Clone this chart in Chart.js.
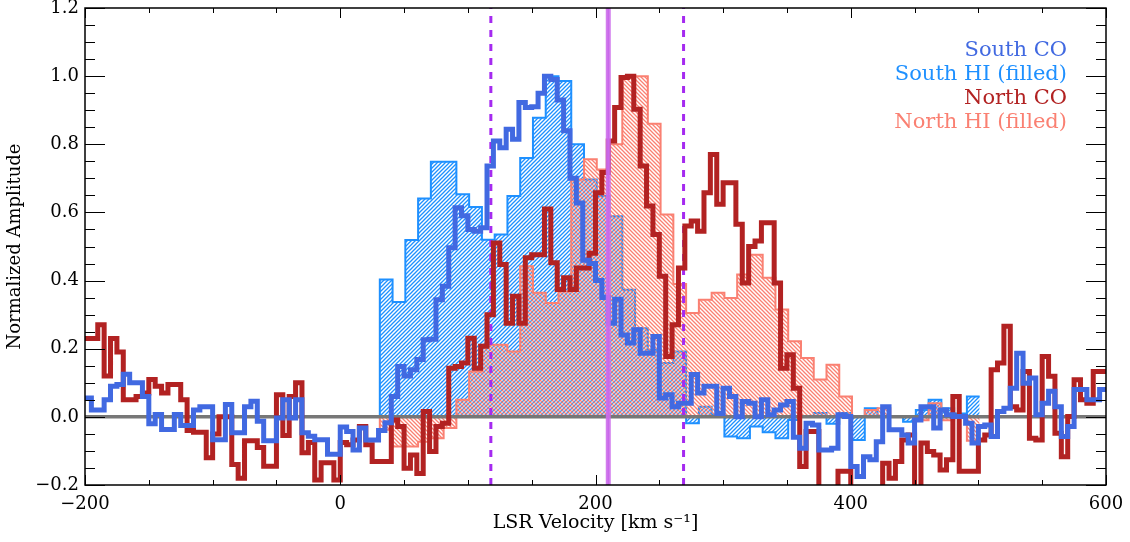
<!DOCTYPE html>
<html>
<head>
<meta charset="utf-8">
<title>South / North CO and HI spectra</title>
<script src="https://cdn.jsdelivr.net/npm/chart.js@4.4.1/dist/chart.umd.min.js"></script>
<style>
  html, body { margin: 0; padding: 0; background: #fff; }
  canvas { display: block; }
</style>
</head>
<body>
<canvas id="chart" width="1130" height="542"></canvas>
<script>
// channel grids, km/s
const coStart = -200, coWidth = 5;
const hiStart = 1, hiWidth = 10;

// CO spectra, one value per 5 km/s channel from -200 to 600
const southCO = [
  0.055, 0.02, 0.02, 0.05, 0.09, 0.095, 0.125, 0.10, 0.10, 0.06,
  -0.02, 0.007, -0.037, -0.037, 0.007, -0.025, -0.025, 0.02, 0.03, 0.03,
  -0.067, -0.067, 0.036, -0.047, -0.047, 0.03, 0.046, -0.013, -0.07, -0.07,
  -0.003, 0.05, -0.003, 0.05, -0.047, -0.057, -0.067, -0.067, -0.11, -0.11,
  -0.03, -0.043, -0.097, -0.033, -0.068, -0.068, -0.04, -0.017, 0.06, 0.148,
  0.12, 0.138, 0.168, 0.226, 0.228, 0.344, 0.383, 0.496, 0.614, 0.59,
  0.55, 0.545, 0.555, 0.736, 0.81, 0.79, 0.844, 0.815, 0.923, 0.908,
  0.91, 0.95, 1.0, 0.99, 0.93, 0.84, 0.70, 0.628, 0.46, 0.45,
  0.40, 0.35, 0.275, 0.345, 0.24, 0.217, 0.256, 0.187, 0.187, 0.236,
  0.055, 0.065, 0.03, 0.04, 0.04, 0.124, 0.07, 0.09, 0.09, 0.01,
  0.084, 0.06, 0.0, 0.045, 0.04, 0.0, 0.05, 0.006, 0.02, 0.035,
  0.045, -0.06, -0.092, -0.019, -0.024, -0.097, -0.097, -0.092, 0.006, 0.001,
  -0.146, -0.175, -0.117, -0.126, -0.073, 0.03, -0.038, -0.038, -0.053, -0.077,
  -0.009, 0.03, 0.03, -0.033, 0.02, 0.006, 0.001, 0.001, -0.019, -0.077,
  -0.028, -0.024, -0.058, 0.016, 0.025, 0.084, 0.187, 0.099, 0.114, 0.006,
  0.04, 0.075, 0.03, -0.058, -0.028, 0.08, 0.08, 0.05, 0.05, 0.08
];
const northCO = [
  0.23, 0.23, 0.27, 0.12, 0.23, 0.19, 0.05, 0.05, 0.06, 0.07,
  0.11, 0.09, 0.07, 0.095, 0.095, 0.05, -0.04, -0.045, -0.045, -0.12,
  -0.05, 0.0, 0.0, -0.14, -0.18, -0.07, -0.07, -0.09, -0.145, -0.145,
  0.065, -0.055, 0.06, 0.10, -0.105, -0.075, -0.185, -0.135, -0.135, -0.185,
  -0.075, -0.082, -0.068, -0.028, -0.082, -0.131, -0.131, -0.131, -0.009, -0.028,
  -0.151, -0.112, -0.166, 0.016, -0.102, -0.028, -0.019, 0.143, 0.148, 0.158,
  0.231, 0.143, 0.207, 0.30, 0.51, 0.447, 0.275, 0.354, 0.275, 0.467,
  0.476, 0.476, 0.61, 0.452, 0.374, 0.408, 0.374, 0.437, 0.437, 0.48,
  0.658, 0.717, 0.81, 0.908, 0.996, 1.0, 0.903, 0.736, 0.619, 0.535,
  0.413, 0.177, 0.27, 0.437, 0.56, 0.575, 0.545, 0.658, 0.77, 0.624,
  0.687, 0.687, 0.565, 0.393, 0.50, 0.516, 0.57, 0.57, 0.393, 0.143,
  0.182, 0.084, -0.146, -0.043, -0.043, -0.22, -0.22, -0.22, -0.16, -0.16,
  -0.22, -0.22, -0.22, -0.22, -0.22, -0.136, -0.18, -0.131, -0.068, -0.053,
  -0.22, -0.077, -0.102, -0.112, -0.156, -0.126, 0.06, -0.16, -0.16, -0.16,
  -0.068, -0.053, 0.138, 0.158, 0.266, 0.03, 0.02, 0.133, -0.063, -0.068,
  0.177, 0.119, -0.048, -0.117, 0.001, 0.109, 0.05, 0.04, 0.133, 0.133
];

// HI spectra, one value per 10 km/s channel from 1 to 501
const southHI = [
  0, 0, 0, 0.403, 0.337, 0.519, 0.641, 0.749, 0.749, 0.653,
  0.616, 0.52, 0.535, 0.648, 0.76, 0.878, 1.0, 0.986, 0.80, 0.697,
  0.648, 0.589, 0.373, 0.26, 0.197, 0.158, 0.192, -0.019, 0.03, 0.006,
  -0.058, -0.063, -0.028, -0.045, -0.063, -0.009, 0.0, 0.011, -0.02, 0.011,
  -0.068, 0.025, 0.0, 0.0, -0.014, 0.02, 0.05, 0.025, 0.01, 0.06
];
const northHI = [
  0, 0, 0, -0.038, -0.087, -0.087, -0.073, -0.063, -0.033, 0.05,
  0.133, 0.212, 0.212, 0.192, 0.442, 0.364, 0.334, 0.368, 0.697, 0.756,
  0.726, 0.80, 1.0, 1.0, 0.86, 0.594, 0.39, 0.305, 0.344, 0.364,
  0.349, 0.418, 0.476, 0.408, 0.315, 0.222, 0.173, 0.11, 0.153, 0.06,
  0.0, 0.02, 0.025, 0.0, 0.0, -0.01, 0.04, -0.01, 0.0, -0.07
];

// marker velocities
const windowVel = [118, 269];
const centreVel = 210;

const xTicks = [-200, 0, 200, 400, 600];
const yTicks = [-0.2, 0.0, 0.2, 0.4, 0.6, 0.8, 1.0, 1.2];
const xMinor = 50, yMinor = 0.05;

const legendText = ['South CO', 'South HI (filled)', 'North CO', 'North HI (filled)'];
const legendColor = ['#4169E1', '#1E90FF', '#B22222', '#FA8072'];

// value i holds over [start + i*width, start + (i+1)*width]
function steps(start, width, values) {
  const pts = values.map((v, i) => ({x: start + i * width, y: v}));
  pts.push({x: start + values.length * width, y: values[values.length - 1]});
  return pts;
}

function hatch(color, up) {
  const c = document.createElement('canvas');
  c.width = c.height = 4;
  const g = c.getContext('2d');
  g.strokeStyle = color;
  g.lineWidth = 1.3;
  g.beginPath();
  if (up) {
    g.moveTo(-1, 5); g.lineTo(5, -1);
    g.moveTo(-1, 1); g.lineTo(1, -1);
    g.moveTo(3, 5); g.lineTo(5, 3);
  } else {
    g.moveTo(-1, -1); g.lineTo(5, 5);
    g.moveTo(-1, 3); g.lineTo(1, 5);
    g.moveTo(3, -1); g.lineTo(5, 1);
  }
  g.stroke();
  return g.createPattern(c, 'repeat');
}

const minus = s => s.replace('-', '\u2212');

const vline = v => [{x: v, y: yTicks[0]}, {x: v, y: yTicks[yTicks.length - 1]}];

// inward IDL style ticks and box
const framePlugin = {
  id: 'frame',
  afterDraw(chart) {
    const {ctx, chartArea: a, scales: {x, y}} = chart;
    ctx.save();
    ctx.strokeStyle = '#000';
    ctx.lineWidth = 1;
    ctx.beginPath();
    const nx = Math.round((x.max - x.min) / xMinor);
    for (let i = 0; i <= nx; i++) {
      const v = x.min + i * xMinor;
      const px = Math.round(x.getPixelForValue(v)) + 0.5;
      const len = xTicks.some(t => Math.abs(t - v) < 1e-6) ? 10 : 5;
      ctx.moveTo(px, a.bottom); ctx.lineTo(px, a.bottom - len);
      ctx.moveTo(px, a.top); ctx.lineTo(px, a.top + len);
    }
    const ny = Math.round((y.max - y.min) / yMinor);
    for (let i = 0; i <= ny; i++) {
      const v = y.min + i * yMinor;
      const py = Math.round(y.getPixelForValue(v)) + 0.5;
      const len = yTicks.some(t => Math.abs(t - v) < 1e-6) ? 20 : 10;
      ctx.moveTo(a.left, py); ctx.lineTo(a.left + len, py);
      ctx.moveTo(a.right, py); ctx.lineTo(a.right - len, py);
    }
    ctx.stroke();
    ctx.lineWidth = 1.5;
    ctx.strokeRect(a.left, a.top, a.right - a.left, a.bottom - a.top);
    ctx.restore();
  }
};

const legendPlugin = {
  id: 'cornerLegend',
  afterDatasetsDraw(chart) {
    const {ctx, chartArea: a} = chart;
    ctx.save();
    ctx.font = '21px "DejaVu Serif"';
    ctx.textAlign = 'right';
    ctx.textBaseline = 'alphabetic';
    legendText.forEach((t, i) => {
      ctx.fillStyle = legendColor[i];
      ctx.fillText(t, a.right - 39, a.top + 48 + 24 * i);
    });
    ctx.restore();
  }
};

Chart.defaults.font.family = '"DejaVu Serif", serif';
Chart.defaults.color = '#000';

const ctx = document.getElementById('chart');
new Chart(ctx, {
  type: 'line',
  data: {
    datasets: [
      {
        label: 'centre', data: vline(centreVel),
        borderColor: 'rgba(205,110,235,0.9)', borderWidth: 5, order: 0
      },
      {
        label: 'centre core', data: vline(centreVel),
        borderColor: '#A33BE3', borderWidth: 1.5, order: 0
      },
      {
        label: legendText[0], data: steps(coStart, coWidth, southCO), stepped: 'before',
        borderColor: legendColor[0], borderWidth: 5, order: 1
      },
      {
        label: legendText[2], data: steps(coStart, coWidth, northCO), stepped: 'before',
        borderColor: legendColor[2], borderWidth: 5, order: 2
      },
      {
        label: 'window low', data: vline(windowVel[0]),
        borderColor: '#A52AF0', borderWidth: 3, borderDash: [7, 7], order: 3
      },
      {
        label: 'window high', data: vline(windowVel[1]),
        borderColor: '#A52AF0', borderWidth: 3, borderDash: [7, 7], order: 3
      },
      {
        label: 'zero', data: [{x: xTicks[0], y: 0}, {x: xTicks[xTicks.length - 1], y: 0}],
        borderColor: '#777', borderWidth: 3.5, order: 4
      },
      {
        label: legendText[3], data: steps(hiStart, hiWidth, northHI), stepped: 'before',
        borderColor: legendColor[3], borderWidth: 2, fill: 'origin',
        backgroundColor: hatch(legendColor[3], false), order: 5
      },
      {
        label: legendText[1], data: steps(hiStart, hiWidth, southHI), stepped: 'before',
        borderColor: legendColor[1], borderWidth: 2, fill: 'origin',
        backgroundColor: hatch(legendColor[1], true), order: 6
      }
    ]
  },
  options: {
    responsive: false,
    animation: false,
    devicePixelRatio: 1,
    events: [],
    layout: {padding: {top: 8, right: 24, bottom: 0, left: 0}},
    datasets: {
      line: {clip: 0, pointRadius: 0, tension: 0, borderJoinStyle: 'miter', borderCapStyle: 'butt'}
    },
    plugins: {legend: {display: false}, tooltip: {enabled: false}},
    scales: {
      x: {
        type: 'linear', min: xTicks[0], max: xTicks[xTicks.length - 1],
        afterBuildTicks: s => { s.ticks = xTicks.map(v => ({value: v})); },
        afterFit: s => { s.height = 57; s.paddingLeft = 0; s.paddingRight = 0; },
        grid: {display: false, drawTicks: false},
        border: {display: false},
        ticks: {padding: 9, font: {size: 18}, color: '#000', callback: v => minus(String(v))},
        title: {display: true, text: 'LSR Velocity [km s\u207B\u00B9]', font: {size: 19}, padding: {top: 0, bottom: 8}}
      },
      y: {
        type: 'linear', min: yTicks[0], max: yTicks[yTicks.length - 1],
        afterBuildTicks: s => { s.ticks = yTicks.map(v => ({value: v})); },
        afterFit: s => { s.width = 85; s.paddingTop = 0; s.paddingBottom = 0; },
        grid: {display: false, drawTicks: false},
        border: {display: false},
        ticks: {padding: 6, font: {size: 18}, color: '#000',
          callback: v => Math.abs(v) < 1e-9 ? '0.0' : minus(v.toFixed(1))},
        title: {display: true, text: 'Normalized Amplitude', font: {size: 18}, padding: {top: 5, bottom: 0}}
      }
    }
  },
  plugins: [framePlugin, legendPlugin]
});
</script>
</body>
</html>
